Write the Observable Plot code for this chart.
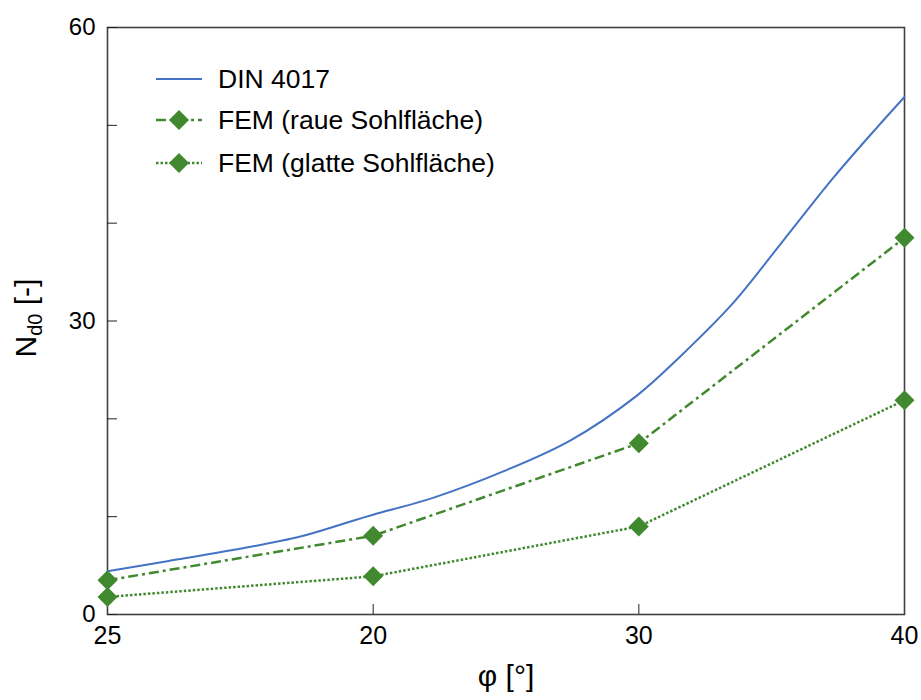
<!DOCTYPE html>
<html>
<head>
<meta charset="utf-8">
<script src="https://cdn.jsdelivr.net/npm/d3@7"></script>
<script src="https://cdn.jsdelivr.net/npm/@observablehq/plot@0.6"></script>
<style>
  html, body { margin: 0; padding: 0; background: #fff; }
  #chart { width: 921px; height: 700px; }
</style>
</head>
<body>
<div id="chart"></div>
<script>
// ---- data ----
const xPositions = [0, 1, 2, 3];
const xTickLabels = ["25", "20", "30", "40"];
const xInnerTicks = [1, 2];

const yTicks = [0, 10, 20, 30, 40, 50, 60];
const yTickLabels = [0, 30, 60];

const femRough = [3.5, 8.05, 17.5, 38.5];   // FEM (raue Sohlfläche)
const femSmooth = [1.8, 3.9, 9.0, 21.9];    // FEM (glatte Sohlfläche)

const dinPos = [0, 0.225, 0.476, 0.726, 0.927, 1.0, 1.228, 1.492, 1.743, 1.994, 2.157, 2.357, 2.543, 2.734, 2.897, 3.0];
const dinVal = [4.43, 5.45, 6.61, 7.97, 9.61, 10.2, 11.95, 14.65, 17.8, 22.4, 26.4, 31.9, 38.2, 44.7, 49.8, 52.9];

const seriesNames = ["DIN 4017", "FEM (raue Sohlfläche)", "FEM (glatte Sohlfläche)"];

const blue = "#4472C4";
const green = "#41892F";
const dashDot = "10,4,3,4";
const dotted = "2.5,2";

// ---- tables ----
const din = dinPos.map((p, i) => ({pos: p, val: dinVal[i]}));
const rough = xPositions.map((p, i) => ({pos: p, val: femRough[i]}));
const smooth = xPositions.map((p, i) => ({pos: p, val: femSmooth[i]}));

const font = "'Liberation Sans', Arial, sans-serif";

const chart = Plot.plot({
  width: 921,
  height: 700,
  marginLeft: 107,
  marginRight: 17,
  marginTop: 27,
  marginBottom: 86,
  style: {fontFamily: font, fontSize: "24px", color: "#000", background: "#fff", overflow: "visible"},
  x: {domain: [0, 3]},
  y: {domain: [0, 60]},
  marks: [
    Plot.frame({stroke: "#404040", strokeWidth: 1.6}),
    Plot.axisY({ticks: yTicks, tickSize: -10, tickPadding: 22, stroke: "#222",
      tickFormat: d => yTickLabels.includes(d) ? String(d) : "", label: null, fontSize: 24}),
    Plot.axisX({ticks: xInnerTicks, tickSize: -10, stroke: "#222", tickFormat: () => "", label: null}),
    Plot.axisX({ticks: xPositions, tickSize: 0, tickPadding: 12, fontSize: 25,
      tickFormat: d => xTickLabels[d], label: null}),
    Plot.text(["φ [°]"], {frameAnchor: "bottom", dy: 71, fontSize: 30, fill: "#000"}),
    Plot.line(din, {x: "pos", y: "val", stroke: blue, strokeWidth: 2, curve: "catmull-rom"}),
    Plot.line(rough, {x: "pos", y: "val", stroke: green, strokeWidth: 2.5, strokeDasharray: dashDot, strokeLinecap: "butt"}),
    Plot.line(smooth, {x: "pos", y: "val", stroke: green, strokeWidth: 2.5, strokeDasharray: dotted, strokeLinecap: "butt"}),
    Plot.dot(rough, {x: "pos", y: "val", symbol: "diamond2", r: 9, fill: green, stroke: "none"}),
    Plot.dot(smooth, {x: "pos", y: "val", symbol: "diamond2", r: 9, fill: green, stroke: "none"})
  ]
});

document.getElementById("chart").appendChild(chart);

// ---- y axis title with subscript ----
const svg = d3.select(chart);
const yTitle = svg.append("text")
  .attr("transform", "translate(36,318) rotate(-90)")
  .attr("text-anchor", "middle")
  .attr("font-family", font)
  .attr("font-size", 30)
  .attr("fill", "#000");
yTitle.append("tspan").text("N");
yTitle.append("tspan").attr("font-size", 20).attr("dy", 6).text("d0");
yTitle.append("tspan").attr("dy", -6).text(" [-]");

// ---- legend inside the plot area ----
const legendRows = [
  {name: seriesNames[0], stroke: blue, dash: null, width: 2, marker: false},
  {name: seriesNames[1], stroke: green, dash: dashDot, width: 2.5, marker: true},
  {name: seriesNames[2], stroke: green, dash: dotted, width: 2.5, marker: true}
];
const lg = svg.append("g").attr("font-family", font).attr("font-size", 26.5).attr("text-anchor", "start");
const rowY = [79, 120, 163];
legendRows.forEach((r, i) => {
  const g = lg.append("g").attr("transform", `translate(0,${rowY[i]})`);
  g.append("line").attr("x1", 156).attr("x2", 202).attr("y1", 0).attr("y2", 0)
    .attr("stroke", r.stroke).attr("stroke-width", r.width)
    .attr("stroke-dasharray", r.dash).attr("stroke-linecap", "butt");
  if (r.marker) {
    g.append("path").attr("d", d3.symbol(d3.symbolDiamond2, Math.PI * 81)())
      .attr("transform", "translate(179,0)").attr("fill", green);
  }
  g.append("text").attr("x", 218).attr("dy", "0.35em").attr("text-anchor", "start")
    .attr("fill", "#000").text(r.name);
});
</script>
</body>
</html>
